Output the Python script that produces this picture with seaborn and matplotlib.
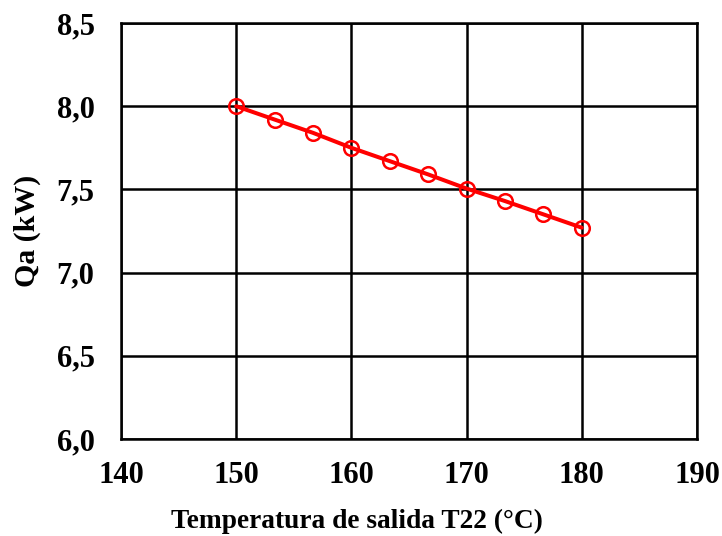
import matplotlib
matplotlib.use("Agg")
import matplotlib.pyplot as plt
import seaborn as sns
import pandas as pd
from matplotlib.ticker import FuncFormatter

temperatura = [150, 153.33, 156.67, 160, 163.33, 166.67, 170, 173.33, 176.67, 180]
qa = [8.00, 7.92, 7.84, 7.75, 7.67, 7.59, 7.505, 7.43, 7.35, 7.27]
x_ticks = [140, 150, 160, 170, 180, 190]
y_ticks = [6.0, 6.5, 7.0, 7.5, 8.0, 8.5]

sns.set_theme(style="white")
plt.rcParams['font.family'] = ['Liberation Serif', 'DejaVu Serif']
plt.rcParams['font.weight'] = 'bold'

df = pd.DataFrame({"T": temperatura, "Qa": qa})

fig = plt.figure(figsize=(7.22, 5.36), dpi=100)
ax = fig.add_axes([0.1676, 0.181, 0.7978, 0.776])

sns.lineplot(data=df, x="T", y="Qa", ax=ax, color="#ff0000", linewidth=2.9,
             marker="o", markersize=10.5, markerfacecolor="none",
             markeredgecolor="#ff0000", markeredgewidth=1.8, zorder=5)

ax.set_xlim(140, 190)
ax.set_ylim(6.0, 8.5)
ax.set_xticks(x_ticks)
ax.set_yticks(y_ticks)
ax.yaxis.set_major_formatter(FuncFormatter(lambda v, p: f"{v:.1f}".replace(".", ",")))
ax.grid(True, color="black", linewidth=1.8)
ax.set_axisbelow(True)
for s in ax.spines.values():
    s.set_color("black")
    s.set_linewidth(1.8)

ax.tick_params(axis="both", length=0, labelsize=22, colors="black")
ax.tick_params(axis="x", pad=16)
ax.tick_params(axis="y", pad=19)
for lab in ax.get_xticklabels() + ax.get_yticklabels():
    lab.set_fontweight("bold")

ax.set_xlabel("Temperatura de salida T22 (°C)", fontsize=19.7, fontweight="bold", color="black")
ax.set_ylabel("Qa (kW)", fontsize=21.5, fontweight="bold", color="black")
ax.xaxis.set_label_coords(0.41, -0.168)
ax.yaxis.set_label_coords(-0.139, 0.5)

fig.savefig("out.png", dpi=100)
